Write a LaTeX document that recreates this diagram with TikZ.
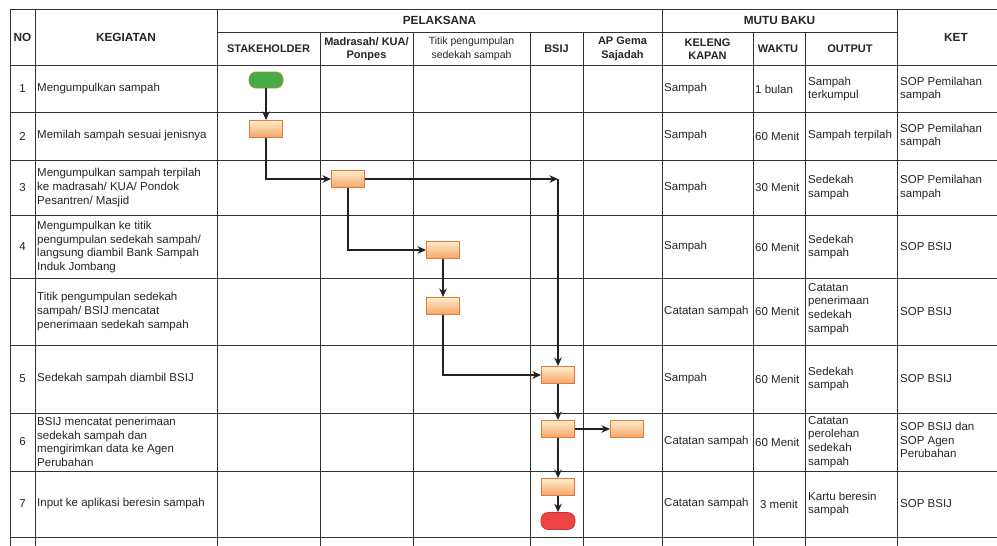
\documentclass[tikz,border=0pt]{standalone}
\usepackage{fontspec}
\setmainfont{Liberation Sans}
\usetikzlibrary{arrows.meta}
\definecolor{gridc}{HTML}{333333}
\definecolor{procedge}{HTML}{E27A3C}
\definecolor{proctop}{HTML}{FDEBCB}
\definecolor{procbot}{HTML}{F5A667}
\definecolor{startfill}{HTML}{45AD45}
\definecolor{endfill}{HTML}{EE4343}
\definecolor{arrowc}{HTML}{222222}
\tikzset{
  gridline/.style={draw=gridc, line width=0.9pt},
  celltext/.style={font=\fontsize{11.5}{13.7}\selectfont, align=left, anchor=west, inner sep=0pt, text=black!85},
  numtext/.style={font=\fontsize{11.5}{13.7}\selectfont, inner sep=0pt, text=black!85},
  headtext/.style={font=\fontsize{11}{13.5}\selectfont\bfseries, align=center, inner sep=0pt, text=black!85},
  headbig/.style={font=\fontsize{11.8}{13.5}\selectfont\bfseries, align=center, inner sep=0pt, text=black!85},
  headplain/.style={font=\fontsize{10.5}{13.5}\selectfont, align=center, inner sep=0pt, text=black!85},
  procbox/.style={draw=procedge, line width=0.9pt, top color=proctop, bottom color=procbot, minimum width=33pt, minimum height=17pt, inner sep=0pt},
  startbox/.style={draw=procedge!70!startfill, line width=0.8pt, fill=startfill, rounded corners=7pt, minimum width=34pt, minimum height=16pt, inner sep=0pt},
  endbox/.style={draw=endfill!80!black, line width=0.6pt, fill=endfill, rounded corners=7pt, minimum width=34pt, minimum height=17pt, inner sep=0pt},
  flow/.style={draw=arrowc, line width=1.4pt, -{Stealth[length=8.5pt,width=7.5pt]}},
}
\begin{document}
\begin{tikzpicture}[x=1pt,y=-1pt]
\useasboundingbox (0,0) rectangle (997,546);
\fill[white] (0,0) rectangle (997,546);
% ---------- grid ----------
\foreach \yy in {9,65,112,160,215,278,345,413,471,537}
  \draw[gridline] (10,\yy) -- (997,\yy);
\draw[gridline] (217,32) -- (897,32);
\foreach \xx in {10,35,217,662,897}
  \draw[gridline] (\xx,9) -- (\xx,546);
\foreach \xx in {320,413,530,583,753,805}
  \draw[gridline] (\xx,32) -- (\xx,546);
% ---------- header ----------
\node[headbig] (hno) at (22.5,37) {NO};
\node[headbig] (hkeg) at (126,37) {KEGIATAN};
\node[headbig] (hpel) at (439.5,20.5) {PELAKSANA};
\node[headbig] (hmutu) at (779.5,20.5) {MUTU BAKU};
\node[headbig] (hket) at (956,37) {KET};
\node[headtext] (hstake) at (268.5,49) {STAKEHOLDER};
\node[headtext] (hmad) at (366.5,49) {Madrasah/ KUA/\\Ponpes};
\node[headplain] (htitik) at (471.5,49) {Titik pengumpulan\\sedekah sampah};
\node[headtext] (hbsij) at (556.5,49) {BSIJ};
\node[headtext] (hap) at (622.5,49) {AP Gema\\Sajadah};
\node[headtext] (hkel) at (707.5,49) {KELENG\\KAPAN};
\node[headtext] (hwak) at (778,49) {WAKTU};
\node[headtext] (hout) at (850,49) {OUTPUT};
% ---------- rows ----------
% row 1
\node[numtext] (n1) at (22.5,89) {1};
\node[celltext] (k1) at (37,89) {Mengumpulkan sampah};
\node[celltext] (kl1) at (664,89) {Sampah};
\node[celltext] (w1) at (755,89) {1 bulan};
\node[celltext] (o1) at (808,89) {Sampah\\terkumpul};
\node[celltext] (t1) at (900,89) {SOP Pemilahan\\sampah};
% row 2
\node[numtext] (n2) at (22.5,136) {2};
\node[celltext] (k2) at (37,136) {Memilah sampah sesuai jenisnya};
\node[celltext] (kl2) at (664,136) {Sampah};
\node[celltext] (w2) at (755,136) {60 Menit};
\node[celltext] (o2) at (808,136) {Sampah terpilah};
\node[celltext] (t2) at (900,136) {SOP Pemilahan\\sampah};
% row 3
\node[numtext] (n3) at (22.5,187.5) {3};
\node[celltext] (k3) at (37,187.5) {Mengumpulkan sampah terpilah\\ke madrasah/ KUA/ Pondok\\Pesantren/ Masjid};
\node[celltext] (kl3) at (664,187.5) {Sampah};
\node[celltext] (w3) at (755,187.5) {30 Menit};
\node[celltext] (o3) at (808,187.5) {Sedekah\\sampah};
\node[celltext] (t3) at (900,187.5) {SOP Pemilahan\\sampah};
% row 4
\node[numtext] (n4) at (22.5,247) {4};
\node[celltext] (k4) at (37,247) {Mengumpulkan ke titik\\pengumpulan sedekah sampah/\\langsung diambil Bank Sampah\\Induk Jombang};
\node[celltext] (kl4) at (664,247) {Sampah};
\node[celltext] (w4) at (755,247) {60 Menit};
\node[celltext] (o4) at (808,247) {Sedekah\\sampah};
\node[celltext] (t4) at (900,247) {SOP BSIJ};
% row 4b
\node[celltext] (k4b) at (37,311.5) {Titik pengumpulan sedekah\\sampah/ BSIJ mencatat\\penerimaan sedekah sampah};
\node[celltext] (kl4b) at (664,311.5) {Catatan sampah};
\node[celltext] (w4b) at (755,311.5) {60 Menit};
\node[celltext] (o4b) at (808,309) {Catatan\\penerimaan\\sedekah\\sampah};
\node[celltext] (t4b) at (900,311.5) {SOP BSIJ};
% row 5
\node[numtext] (n5) at (22.5,379) {5};
\node[celltext] (k5) at (37,379) {Sedekah sampah diambil BSIJ};
\node[celltext] (kl5) at (664,379) {Sampah};
\node[celltext] (w5) at (755,379) {60 Menit};
\node[celltext] (o5) at (808,379) {Sedekah\\sampah};
\node[celltext] (t5) at (900,379) {SOP BSIJ};
% row 6
\node[numtext] (n6) at (22.5,442) {6};
\node[celltext] (k6) at (37,442) {BSIJ mencatat penerimaan\\sedekah sampah dan\\mengirimkan data ke Agen\\Perubahan};
\node[celltext] (kl6) at (664,442) {Catatan sampah};
\node[celltext] (w6) at (755,442) {60 Menit};
\node[celltext] (o6) at (808,442) {Catatan\\perolehan\\sedekah\\sampah};
\node[celltext] (t6) at (900,440) {SOP BSIJ dan\\SOP Agen\\Perubahan};
% row 7
\node[numtext] (n7) at (22.5,504) {7};
\node[celltext] (k7) at (37,504) {Input ke aplikasi beresin sampah};
\node[celltext] (kl7) at (664,504) {Catatan sampah};
\node[numtext] (w7) at (779,504) {3 menit};
\node[celltext] (o7) at (808,504) {Kartu beresin\\sampah};
\node[celltext] (t7) at (900,504) {SOP BSIJ};
% ---------- flow shapes ----------
\node[startbox] (s) at (266,80) {};
\node[procbox] (p2) at (266,129) {};
\node[procbox] (p3) at (348,179) {};
\node[procbox] (p4) at (443,250) {};
\node[procbox] (p4b) at (443,306) {};
\node[procbox] (p5) at (558,375) {};
\node[procbox] (p6) at (558,429) {};
\node[procbox] (pap) at (627,429) {};
\node[procbox] (p7) at (558,487) {};
\node[endbox] (e) at (558,521) {};
\coordinate (c1) at (558,179);
% ---------- connectors ----------
\draw[flow] (s.south) -- (p2.north);
\draw[flow] (p2.south) |- (p3.west);
\draw[flow] (p3.east) -- (c1);
\draw[flow] (c1) -- (p5.north);
\draw[flow] (p3.south) |- (p4.west);
\draw[flow] (p4.south) -- (p4b.north);
\draw[flow] (p4b.south) |- (p5.west);
\draw[flow] (p5.south) -- (p6.north);
\draw[flow] (p6.east) -- (pap.west);
\draw[flow] (p6.south) -- (p7.north);
\draw[flow] (p7.south) -- (e.north);
\end{tikzpicture}
\end{document}
